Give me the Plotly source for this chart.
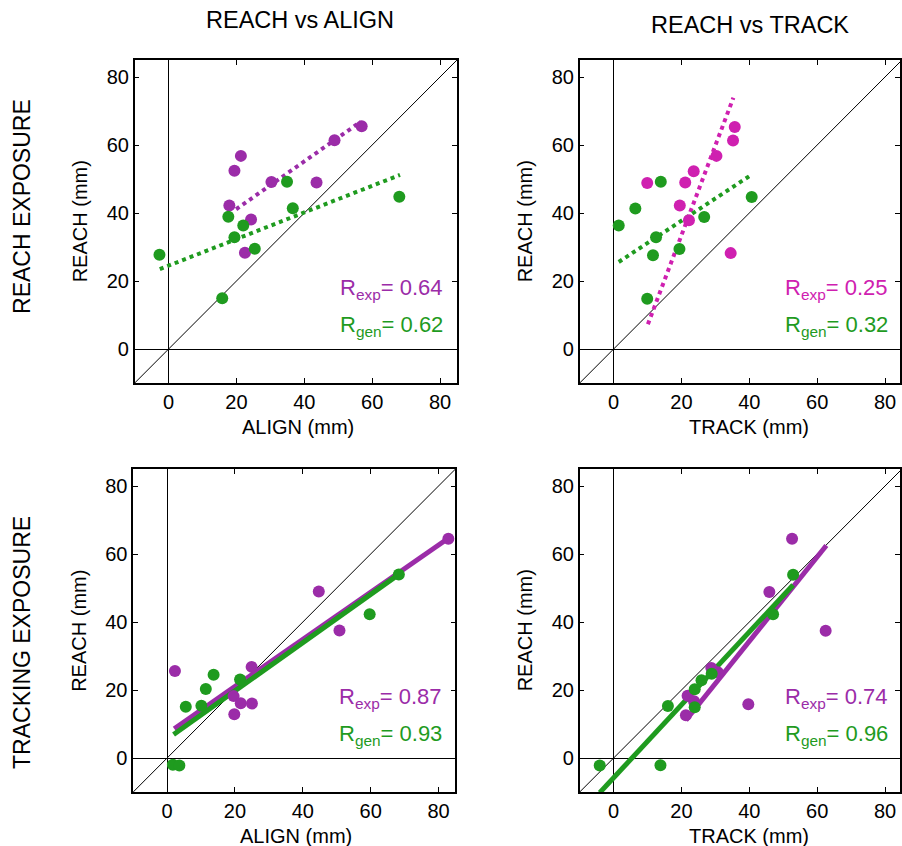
import plotly.graph_objects as go

W, H = 902, 846
FONT = "Liberation Sans, Arial, sans-serif"
PURPLE = "#9b2ca8"
MAGENTA = "#cf20b0"
GREEN = "#1f9b1f"

# ---------------- data ----------------
# Panel A: REACH exposure, REACH vs ALIGN
a_exp_x = [56.9, 48.9, 21.3, 19.4, 30.3, 43.6, 17.9, 24.3, 22.5]
a_exp_y = [65.5, 61.4, 56.8, 52.4, 49.1, 49.0, 42.2, 38.1, 28.3]
a_gen_x = [-2.7, 15.8, 17.6, 22.0, 19.4, 25.4, 34.9, 36.6, 68.0]
a_gen_y = [27.7, 14.9, 38.9, 36.3, 32.9, 29.5, 49.2, 41.4, 44.8]
a_fit_exp = ([19.9, 56.7], [41.1, 66.9])
a_fit_gen = ([-2.6, 68.2], [23.5, 51.2])

# Panel B: REACH exposure, REACH vs TRACK
b_exp_x = [35.7, 35.2, 30.3, 23.6, 21.1, 9.9, 19.5, 22.2, 34.5]
b_exp_y = [65.3, 61.3, 56.8, 52.3, 49.0, 48.8, 42.2, 37.9, 28.2]
b_gen_x = [1.5, 6.4, 13.9, 12.5, 11.6, 9.9, 19.4, 26.7, 40.7]
b_gen_y = [36.3, 41.3, 49.2, 32.9, 27.6, 14.8, 29.4, 38.8, 44.7]
b_fit_exp = ([10.1, 35.3], [7.3, 73.9])
b_fit_gen = ([1.5, 40.4], [25.6, 51.1])

# Panel C: TRACKING exposure, REACH vs ALIGN
c_exp_x = [82.9, 44.7, 50.8, 2.3, 24.9, 19.6, 21.7, 25.0, 19.8]
c_exp_y = [64.5, 49.0, 37.5, 25.6, 26.8, 18.2, 16.1, 16.0, 12.9]
c_gen_x = [68.3, 59.7, 13.7, 21.5, 11.4, 5.5, 10.1, 1.7, 3.6]
c_gen_y = [54.0, 42.3, 24.5, 23.1, 20.3, 15.1, 15.4, -2.0, -2.2]
c_fit_exp = ([2.1, 83.1], [8.6, 64.8])
c_fit_gen = ([1.9, 68.7], [6.9, 54.3])

# Panel D: TRACKING exposure, REACH vs TRACK
d_exp_x = [52.6, 45.9, 62.5, 39.7, 28.8, 30.7, 21.8, 23.7, 21.3]
d_exp_y = [64.5, 48.8, 37.4, 15.8, 26.5, 25.2, 18.3, 16.7, 12.6]
d_gen_x = [52.9, 47.0, 28.9, 25.9, 23.9, 16.0, 23.9, -4.1, 13.8]
d_gen_y = [53.9, 42.3, 24.8, 22.9, 20.2, 15.3, 14.9, -2.2, -2.1]
d_fit_exp = ([21.3, 62.7], [11.1, 62.5])
d_fit_gen = ([-4.1, 52.9], [-10.2, 50.9])

r_labels = {
    "A": ("0.64", "0.62"),
    "B": ("0.25", "0.32"),
    "C": ("0.87", "0.93"),
    "D": ("0.74", "0.96"),
}
col_titles = ["REACH vs ALIGN", "REACH vs TRACK"]
row_titles = ["REACH EXPOSURE", "TRACKING EXPOSURE"]
tick_vals = [0, 20, 40, 60, 80]

# ---------------- layout geometry (pixels) ----------------
PX = 3.4  # pixels per mm
panels = [
    ("A", "x", "y", (135, 458), (60, 383), (a_exp_x, a_exp_y, a_gen_x, a_gen_y, a_fit_exp, a_fit_gen), "dot", PURPLE, "ALIGN (mm)"),
    ("B", "x2", "y2", (581, 902), (60, 383), (b_exp_x, b_exp_y, b_gen_x, b_gen_y, b_fit_exp, b_fit_gen), "dot", MAGENTA, "TRACK (mm)"),
    ("C", "x3", "y3", (133.5, 456.5), (469, 792), (c_exp_x, c_exp_y, c_gen_x, c_gen_y, c_fit_exp, c_fit_gen), "solid", PURPLE, "ALIGN (mm)"),
    ("D", "x4", "y4", (581, 902), (469, 792), (d_exp_x, d_exp_y, d_gen_x, d_gen_y, d_fit_exp, d_fit_gen), "solid", PURPLE, "TRACK (mm)"),
]

fig = go.Figure()
annotations = []

for key, xa, ya, (xl, xr), (yt, yb), data, style, ecol, xlabel in panels:
    ex, ey, gx, gy, fe, fg = data
    xmax = -10 + (xr - xl) / PX
    ymax = -10 + (yb - yt) / PX
    fig.add_trace(go.Scatter(x=[-10, 100], y=[-10, 100], mode="lines",
                             line=dict(color="black", width=1), xaxis=xa, yaxis=ya,
                             showlegend=False, hoverinfo="skip"))
    lw = 4 if style == "dot" else 5
    fig.add_trace(go.Scatter(x=fe[0], y=fe[1], mode="lines",
                             line=dict(color=ecol, width=lw, dash=style), xaxis=xa, yaxis=ya,
                             showlegend=False))
    fig.add_trace(go.Scatter(x=fg[0], y=fg[1], mode="lines",
                             line=dict(color=GREEN, width=lw, dash=style), xaxis=xa, yaxis=ya,
                             showlegend=False))
    fig.add_trace(go.Scatter(x=ex, y=ey, mode="markers",
                             marker=dict(color=ecol, size=12, line=dict(width=0)),
                             xaxis=xa, yaxis=ya, showlegend=False))
    fig.add_trace(go.Scatter(x=gx, y=gy, mode="markers",
                             marker=dict(color=GREEN, size=12, line=dict(width=0)),
                             xaxis=xa, yaxis=ya, showlegend=False))

    axcommon = dict(showgrid=False, zeroline=True, zerolinecolor="black", zerolinewidth=1,
                    showline=True, linecolor="black", linewidth=1.5, mirror="ticks",
                    ticks="inside", ticklen=5, tickwidth=1, tickcolor="black",
                    tickvals=tick_vals, tickfont=dict(family=FONT, size=20, color="black"))
    xname = "xaxis" + xa[1:]
    yname = "yaxis" + ya[1:]
    fig.update_layout(**{
        xname: dict(domain=[xl / W, xr / W], range=[-10, xmax], anchor=ya, **axcommon),
        yname: dict(domain=[1 - yb / H, 1 - yt / H], range=[-10, ymax], anchor=xa, **axcommon),
    })

    rexp, rgen = r_labels[key]
    annotations.append(dict(x=81.5, y=17.7, xref=xa, yref=ya, xanchor="right", yanchor="middle",
                            text=f"R<sub>exp</sub>= {rexp}", showarrow=False,
                            font=dict(family=FONT, size=22, color=ecol)))
    annotations.append(dict(x=81.5, y=6.8, xref=xa, yref=ya, xanchor="right", yanchor="middle",
                            text=f"R<sub>gen</sub>= {rgen}", showarrow=False,
                            font=dict(family=FONT, size=22, color=GREEN)))
    annotations.append(dict(x=(xl + xr) / 2 / W + 2 / W if key in "AC" else 751 / W,
                            y=1 - (yb + 44) / H, xref="paper", yref="paper",
                            xanchor="center", yanchor="middle", text=xlabel, showarrow=False,
                            font=dict(family=FONT, size=20, color="black")))
    annotations.append(dict(x=(xl - 55) / W, y=1 - (yt + yb) / 2 / H, xref="paper", yref="paper",
                            xanchor="center", yanchor="middle", text="REACH (mm)", textangle=-90,
                            showarrow=False, font=dict(family=FONT, size=20, color="black")))

annotations.append(dict(x=301 / W, y=1 - 20 / H, xref="paper", yref="paper", text=col_titles[0],
                        showarrow=False, xanchor="center", yanchor="middle",
                        font=dict(family=FONT, size=23.5, color="black")))
annotations.append(dict(x=752 / W, y=1 - 25 / H, xref="paper", yref="paper", text=col_titles[1],
                        showarrow=False, xanchor="center", yanchor="middle",
                        font=dict(family=FONT, size=23.5, color="black")))
annotations.append(dict(x=22 / W, y=1 - 206 / H, xref="paper", yref="paper", text=row_titles[0],
                        textangle=-90, showarrow=False, xanchor="center", yanchor="middle",
                        font=dict(family=FONT, size=23, color="black")))
annotations.append(dict(x=22 / W, y=1 - 642 / H, xref="paper", yref="paper", text=row_titles[1],
                        textangle=-90, showarrow=False, xanchor="center", yanchor="middle",
                        font=dict(family=FONT, size=23, color="black")))

fig.update_layout(width=W, height=H, margin=dict(l=0, r=0, t=0, b=0),
                  paper_bgcolor="white", plot_bgcolor="white",
                  annotations=annotations, showlegend=False)

fig.write_html("out.html")
